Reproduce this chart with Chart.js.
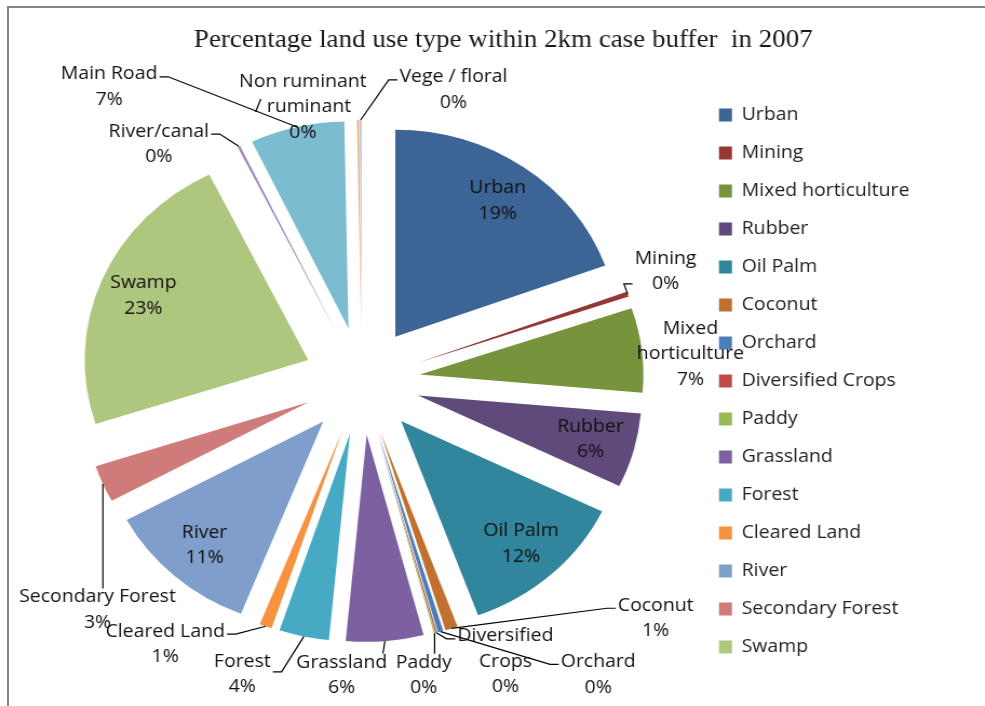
<!DOCTYPE html>
<html>
<head>
<meta charset="utf-8">
<title>Land use within 2km case buffer, 2007</title>
<script src="https://cdn.jsdelivr.net/npm/chart.js@4.4.1/dist/chart.umd.min.js"></script>
<style>
  html, body { margin: 0; padding: 0; background: #fff; overflow: hidden; }
  #frame {
    position: absolute; left: 7px; top: 6px; width: 1000px; height: 720px;
    border-top: 2px solid #858585; border-left: 2px solid #858585;
  }
  #wrap {
    position: absolute; left: 0; top: 0; width: 912px; height: 706px;
    transform: scaleX(1.08); transform-origin: 0 0;
  }
</style>
</head>
<body>
<div id="frame"></div>
<div id="wrap"><canvas id="landUse"></canvas></div>
<script>
const landTypes = [
  'Urban', 'Mining', 'Mixed horticulture', 'Rubber', 'Oil Palm', 'Coconut',
  'Orchard', 'Diversified Crops', 'Paddy', 'Grassland', 'Forest', 'Cleared Land',
  'River', 'Secondary Forest', 'Swamp', 'River/canal', 'Main Road',
  'Non ruminant / ruminant', 'Vege / floral'
];
const sharePct = [
  19.4, 0.4, 6.6, 5.8, 12.2, 0.9,
  0.4, 0.1, 0.1, 5.6, 3.6, 0.9,
  11.1, 2.9, 22.7, 0.2, 6.8,
  0.15, 0.15
];
const sliceColors = [
  '#3c6494', '#953735', '#77933c', '#604a7b', '#31859c', '#c0712f',
  '#4a7ebb', '#be4b48', '#98b954', '#7d60a0', '#46aac5', '#f69240',
  '#7f9ecb', '#cf7b79', '#afc67f', '#a08cbb', '#7bbcd0', '#f9af72',
  '#b9c9e6'
];
// the legend box only has room for the first 15 land types
const legendCount = 15;

// data labels wrap onto several lines
const labelLines = {
  'Mixed horticulture': ['Mixed', 'horticulture'],
  'Diversified Crops': ['Diversified', 'Crops'],
  'Non ruminant / ruminant': ['Non ruminant', '/ ruminant']
};
// label placement: inside = fraction of radius along the slice,
// otherwise dx/dy from the slice's outer edge, with a leader line
const labelSpots = [
  { inside: 0.8 },
  { dx: 35, dy: -23, lead: 'left', ay: 0.75 },
  { dx: 45, dy: 4 },
  { inside: 0.8 },
  { inside: 0.8 },
  { dx: 189, dy: -10, lead: 'left', ay: 0.3 },
  { dx: 146, dy: 43, lead: 'left', ay: 0.3 },
  { dx: 64, dy: 29, lead: 'left', ay: 0.2 },
  { dx: -10, dy: 42, lead: 'top' },
  { dx: -40, dy: 34, lead: 'top' },
  { dx: -57, dy: 38, lead: 'right', ay: 0.45 },
  { dx: -93, dy: 18, lead: 'right', ay: 0.3 },
  { inside: 0.8 },
  { dx: -5, dy: 126, lead: 'top' },
  { inside: 0.8 },
  { dx: -74, dy: -2, lead: 'right', ay: 0.3 },
  { dx: -174, dy: -40, lead: 'right', ay: 0.3 },
  { dx: -51, dy: -13 },
  { dx: 86, dy: -30, lead: 'left', ay: 0.3 }
];

const explode = 54;      // px each slice is pulled out from the centre
const pieRadius = 207;
const lineGap = 25.5;

Chart.defaults.font.family = '"Open Sans"';
Chart.defaults.font.size = 18;
Chart.defaults.color = '#1e1e1e';

// pull every slice out along its mid angle, same distance for all
const explodeSlices = {
  id: 'explodeSlices',
  afterDatasetUpdate(chart, args) {
    args.meta.data.forEach(arc => {
      const mid = (arc.startAngle + arc.endAngle) / 2;
      arc.x += Math.cos(mid) * explode;
      arc.y += Math.sin(mid) * explode;
    });
  }
};

const sliceLabels = {
  id: 'sliceLabels',
  afterDatasetsDraw(chart) {
    const ctx = chart.ctx;
    const meta = chart.getDatasetMeta(0);
    const radius = meta.controller.outerRadius;
    const total = sharePct.reduce((a, b) => a + b, 0);
    ctx.save();
    ctx.font = '18px "Open Sans"';
    ctx.fillStyle = '#111';
    ctx.strokeStyle = '#000';
    ctx.lineWidth = 1.2;
    ctx.textAlign = 'center';
    ctx.textBaseline = 'middle';
    meta.data.forEach((arc, i) => {
      const { x, y, startAngle, endAngle } = arc.getProps(['x', 'y', 'startAngle', 'endAngle'], true);
      const mid = (startAngle + endAngle) / 2;
      const ux = Math.cos(mid), uy = Math.sin(mid);
      const spot = labelSpots[i];
      const lines = (labelLines[landTypes[i]] || [landTypes[i]])
        .concat(Math.round(sharePct[i] / total * 100) + '%');
      const tipX = x + ux * radius;
      const tipY = y + uy * radius;
      let cx, cy;
      if (spot.inside) {
        cx = x + ux * spot.inside * radius;
        cy = y + uy * spot.inside * radius;
      } else {
        cx = tipX + spot.dx;
        cy = tipY + spot.dy;
      }
      const w = Math.max(...lines.map(t => ctx.measureText(t).width));
      const h = lines.length * lineGap;
      const top = cy - h / 2;
      if (spot.lead) {
        ctx.beginPath();
        ctx.moveTo(tipX, tipY);
        if (spot.lead === 'top') {
          const ax = Math.min(Math.max(tipX, cx - w / 2 + 4), cx + w / 2 - 4);
          ctx.lineTo(ax, top + 4);
        } else {
          const side = spot.lead === 'left' ? -1 : 1;
          const ax = cx + side * (w / 2 + 2);
          const ay = top + h * spot.ay;
          ctx.lineTo(ax + side * 8, ay);
          ctx.lineTo(ax, ay);
        }
        ctx.stroke();
      }
      lines.forEach((t, k) => ctx.fillText(t, cx, top + lineGap * (k + 0.5)));
    });
    ctx.restore();
  }
};

const chartTitle = {
  id: 'chartTitle',
  afterDraw(chart) {
    const ctx = chart.ctx;
    ctx.save();
    ctx.font = '25px "Liberation Serif"';
    ctx.fillStyle = '#1a1a1a';
    ctx.textAlign = 'center';
    ctx.textBaseline = 'middle';
    ctx.fillText('Percentage land use type within 2km case buffer  in 2007', 466, 40);
    ctx.restore();
  }
};

new Chart(document.getElementById('landUse'), {
  type: 'pie',
  data: {
    labels: landTypes,
    datasets: [{
      data: sharePct,
      backgroundColor: sliceColors,
      borderWidth: 0,
      radius: pieRadius
    }]
  },
  options: {
    responsive: true,
    maintainAspectRatio: false,
    animation: false,
    events: [],
    layout: { padding: { left: 24.5, right: 60, top: 60, bottom: 4 } },
    plugins: {
      tooltip: { enabled: false },
      legend: {
        position: 'right',
        fullSize: false,
        labels: {
          boxWidth: 12,
          boxHeight: 13,
          padding: 20,
          color: '#1e1e1e',
          filter: item => item.index < legendCount
        }
      }
    }
  },
  plugins: [explodeSlices, sliceLabels, chartTitle]
});
</script>
</body>
</html>
